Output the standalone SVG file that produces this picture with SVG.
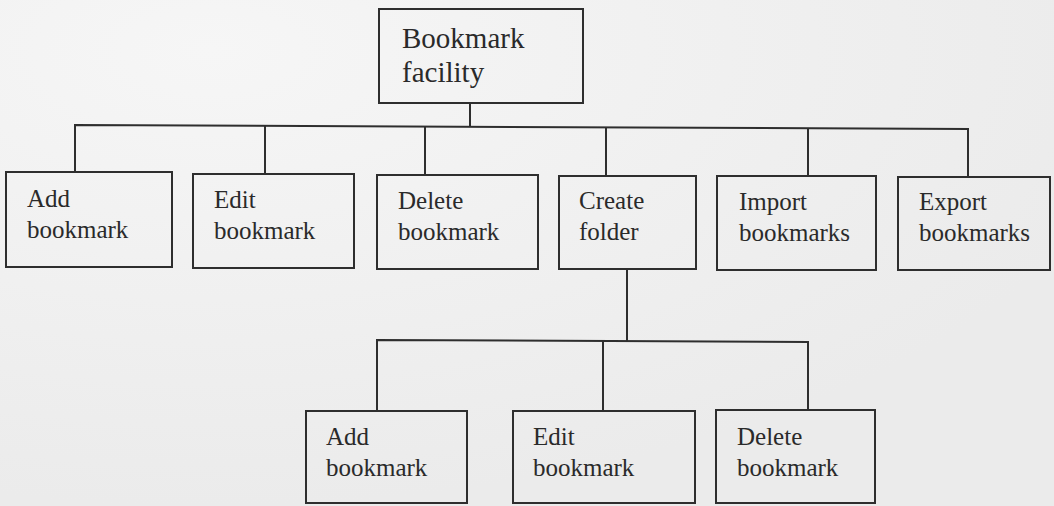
<svg xmlns="http://www.w3.org/2000/svg" width="1054" height="506" viewBox="0 0 1054 506">
  <style>
    .box { fill: none; stroke: #2e2e2e; stroke-width: 2; }
    .link { fill: none; stroke: #2e2e2e; stroke-width: 2; }
    .label { font-family: "Liberation Serif", "Times New Roman", serif; font-size: 25px; fill: #2a2a2a; }
    .title { font-size: 29px; }
  </style>
  <defs>
    <radialGradient id="paper" cx="0.2" cy="0.1" r="0.9">
      <stop offset="0" stop-color="#f6f6f6"/>
      <stop offset="1" stop-color="#ebebeb"/>
    </radialGradient>
  </defs>
  <rect x="0" y="0" width="1054" height="506" fill="url(#paper)"/>

  <!-- tree connectors -->
  <g id="connectors">
    <path class="link" d="M470 103 V127"/>
    <path class="link" d="M75 172 V125 L968 129 V177"/>
    <path class="link" d="M265 174 V126"/>
    <path class="link" d="M425 175 V127"/>
    <path class="link" d="M606 176 V127"/>
    <path class="link" d="M808 176 V128"/>
    <path class="link" d="M627 269 V341"/>
    <path class="link" d="M377 411 V340 L808 342 V410"/>
    <path class="link" d="M603 411 V341"/>
  </g>

  <!-- root -->
  <g id="bookmark-facility">
    <rect class="box" x="379" y="9" width="204" height="94"/>
    <text class="label title" x="402" y="48">Bookmark</text>
    <text class="label title" x="402" y="82">facility</text>
  </g>

  <!-- first level -->
  <g id="add-bookmark">
    <rect class="box" x="6" y="172" width="166" height="95"/>
    <text class="label" x="27" y="207">Add</text>
    <text class="label" x="27" y="238">bookmark</text>
  </g>
  <g id="edit-bookmark">
    <rect class="box" x="193" y="174" width="161" height="94"/>
    <text class="label" x="214" y="208">Edit</text>
    <text class="label" x="214" y="239">bookmark</text>
  </g>
  <g id="delete-bookmark">
    <rect class="box" x="377" y="175" width="161" height="94"/>
    <text class="label" x="398" y="209">Delete</text>
    <text class="label" x="398" y="240">bookmark</text>
  </g>
  <g id="create-folder">
    <rect class="box" x="559" y="176" width="137" height="93"/>
    <text class="label" x="579" y="209">Create</text>
    <text class="label" x="579" y="240">folder</text>
  </g>
  <g id="import-bookmarks">
    <rect class="box" x="717" y="176" width="159" height="94"/>
    <text class="label" x="739" y="210">Import</text>
    <text class="label" x="739" y="241">bookmarks</text>
  </g>
  <g id="export-bookmarks">
    <rect class="box" x="898" y="177" width="152" height="93"/>
    <text class="label" x="919" y="210">Export</text>
    <text class="label" x="919" y="241">bookmarks</text>
  </g>

  <!-- folder children -->
  <g id="folder-add-bookmark">
    <rect class="box" x="306" y="411" width="161" height="92"/>
    <text class="label" x="326" y="445">Add</text>
    <text class="label" x="326" y="476">bookmark</text>
  </g>
  <g id="folder-edit-bookmark">
    <rect class="box" x="513" y="411" width="182" height="92"/>
    <text class="label" x="533" y="445">Edit</text>
    <text class="label" x="533" y="476">bookmark</text>
  </g>
  <g id="folder-delete-bookmark">
    <rect class="box" x="716" y="410" width="159" height="93"/>
    <text class="label" x="737" y="445">Delete</text>
    <text class="label" x="737" y="476">bookmark</text>
  </g>
</svg>
